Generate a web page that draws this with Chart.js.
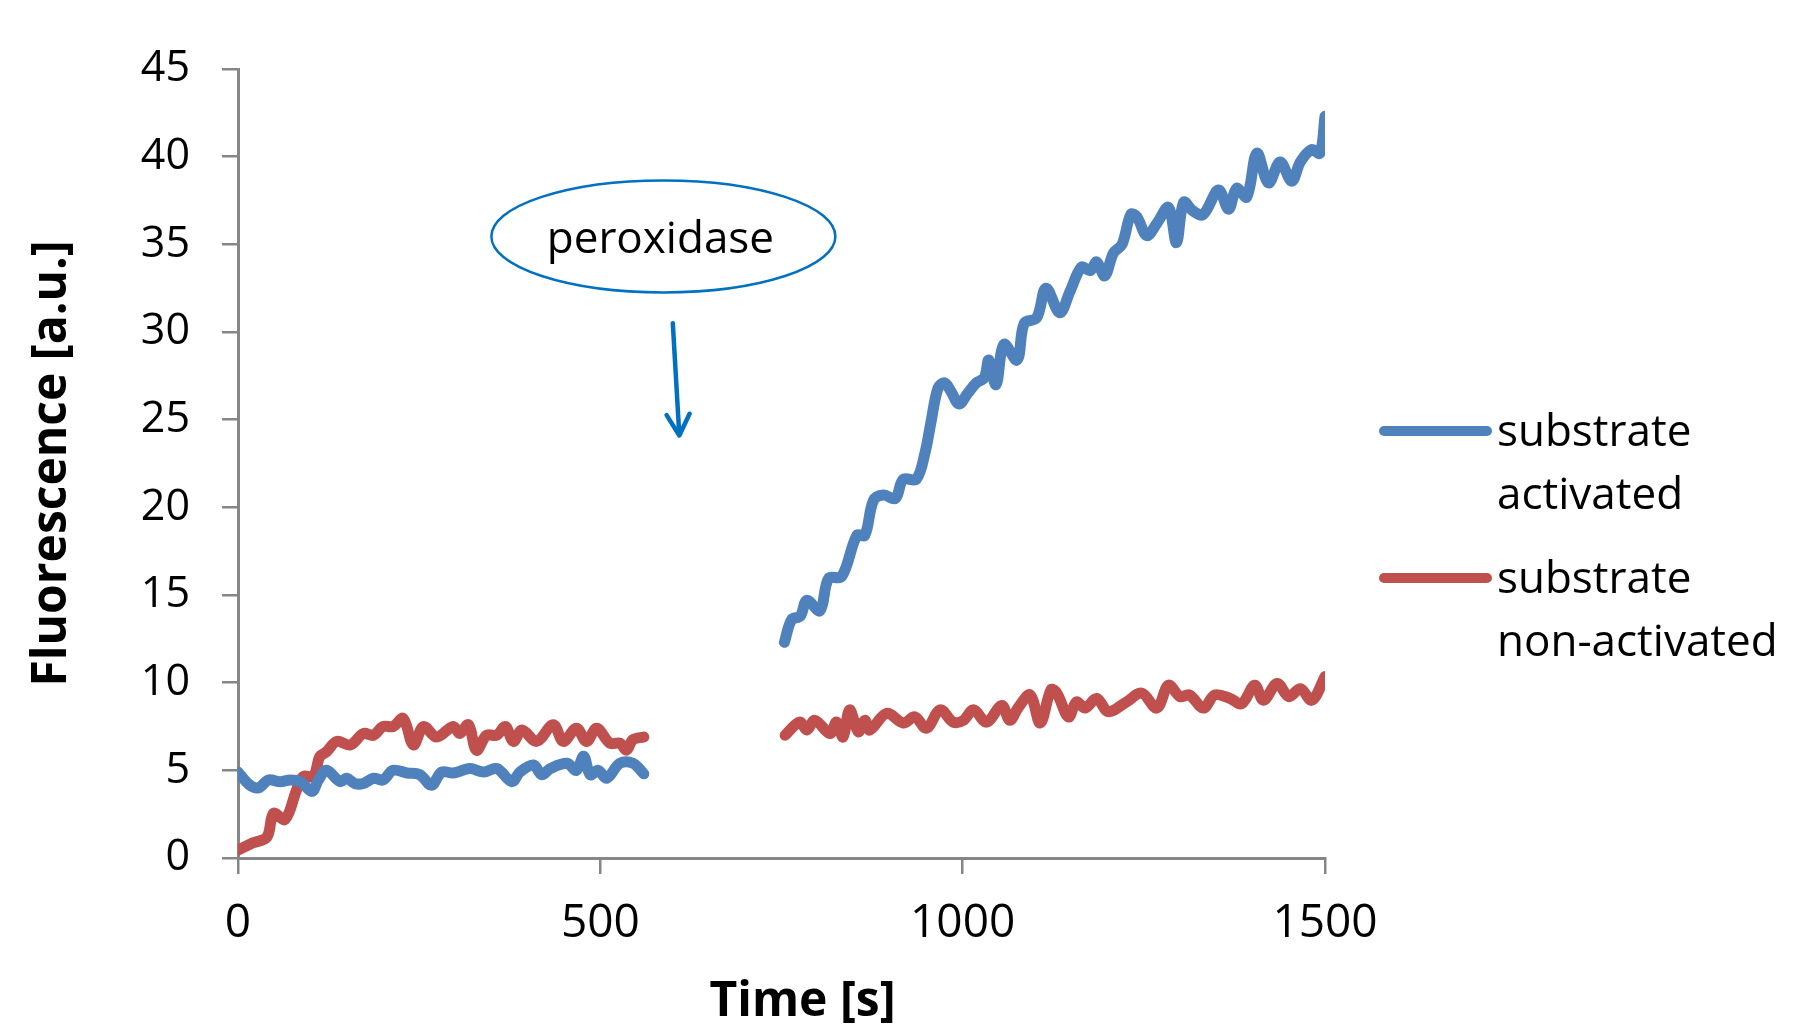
<!DOCTYPE html>
<html>
<head>
<meta charset="utf-8">
<script src="https://cdn.jsdelivr.net/npm/chart.js@4.4.1/dist/chart.umd.min.js"></script>
<style>
  html, body { margin: 0; padding: 0; background: #fff; }
  canvas { display: block; }
</style>
</head>
<body>
<canvas id="myChart" width="1794" height="1025"></canvas>
<script>
// readings, time in s, fluorescence in a.u.
const seriesNames = ["substrate activated", "substrate non-activated"];
const seriesColors = ["#4F81BD", "#C0504D"];

const blueTime = [0, 15, 28, 42, 58, 72, 86, 102, 111, 122, 141, 150, 161, 173, 187, 200, 214, 233, 251, 267,
  281, 297, 320, 339, 357, 378, 389, 408, 419, 431, 454, 467, 477, 486, 497, 509, 527, 545, 560,
  650,
  754, 764, 776, 785, 803, 815, 833, 854, 865, 877, 891, 907, 918, 936, 948, 956, 966, 975, 984, 995,
  1007, 1019, 1030, 1036, 1046, 1057, 1075, 1085, 1102, 1115, 1134, 1148, 1164, 1176, 1185, 1196, 1208, 1220, 1232, 1240,
  1254, 1268, 1284, 1295, 1305, 1318, 1332, 1353, 1367, 1378, 1392, 1406, 1422, 1438, 1454, 1466, 1481, 1493, 1500];
const blueValue = [4.9, 4.2, 4.0, 4.45, 4.35, 4.45, 4.35, 3.8, 4.45, 5.0, 4.35, 4.55, 4.25, 4.25, 4.55, 4.45, 5.0, 4.85, 4.75, 4.15,
  4.9, 4.85, 5.1, 4.9, 5.1, 4.35, 4.9, 5.3, 4.75, 5.1, 5.4, 5.0, 5.8, 4.75, 5.0, 4.55, 5.4, 5.4, 4.8,
  null,
  12.3, 13.6, 13.8, 14.7, 14.1, 15.95, 16.05, 18.4, 18.4, 20.4, 20.7, 20.5, 21.6, 21.6, 23.1, 24.8, 26.8, 27.1, 26.6, 25.9,
  26.5, 27.1, 27.4, 28.4, 27.0, 29.3, 28.4, 30.5, 30.8, 32.5, 31.1, 32.3, 33.7, 33.5, 34.0, 33.2, 34.5, 35.0, 36.7, 36.6,
  35.5, 36.2, 37.1, 35.1, 37.4, 36.9, 36.7, 38.1, 37.0, 38.2, 37.7, 40.2, 38.5, 39.7, 38.6, 39.7, 40.4, 40.2, 42.3];

const redTime = [0, 20, 40, 49, 65, 81, 90, 104, 113, 122, 136, 155, 173, 187, 200, 214, 228, 242, 256, 274,
  297, 306, 318, 329, 343, 357, 369, 380, 392, 412, 435, 449, 467, 481, 495, 513, 527, 536, 545, 560,
  650,
  755, 775, 785, 796, 817, 826, 835, 844, 856, 865, 872, 895, 918, 934, 950, 969, 987, 1001, 1015, 1033,
  1054, 1065, 1077, 1093, 1107, 1122, 1130, 1146, 1157, 1169, 1185, 1201, 1226, 1247, 1268, 1284, 1300, 1313, 1332, 1348,
  1369, 1385, 1403, 1415, 1434, 1450, 1466, 1482, 1500];
const redValue = [0.45, 0.85, 1.2, 2.55, 2.2, 3.9, 4.65, 4.65, 5.8, 6.05, 6.65, 6.45, 7.1, 7.0, 7.5, 7.5, 7.95, 6.45, 7.5, 6.9,
  7.5, 7.1, 7.6, 6.15, 7.0, 7.0, 7.5, 6.65, 7.3, 6.65, 7.6, 6.65, 7.4, 6.65, 7.4, 6.55, 6.55, 6.15, 6.75, 6.9,
  null,
  7.0, 7.75, 7.3, 7.85, 7.1, 7.75, 6.9, 8.45, 7.2, 7.85, 7.3, 8.25, 7.7, 8.05, 7.4, 8.45, 7.75, 7.85, 8.45, 7.75,
  8.7, 7.85, 8.6, 9.3, 7.7, 9.6, 9.4, 8.05, 8.9, 8.55, 9.1, 8.35, 8.9, 9.4, 8.55, 9.85, 9.2, 9.3, 8.55, 9.3,
  9.1, 8.8, 9.85, 9.0, 9.95, 9.2, 9.65, 9.0, 10.35];

// annotation: ellipse centre and arrow ends in data units
const noteText = "peroxidase";
const noteAt = [587, 35.45];
const arrowFrom = [600, 30.5];
const arrowTo = [609, 24.1];
const xTitle = "Time [s]";

const FONT = "'Open Sans', 'DejaVu Sans', sans-serif";
const axisGrey = "#868686";
const noteBlue = "#0070C0";

const toPoints = (xs, ys) => xs.map((t, i) => ({ x: t, y: ys[i] }));

const notePlugin = {
  id: "notes",
  afterDatasetsDraw(chart) {
    const { ctx, scales: { x, y } } = chart;
    const area = chart.chartArea;
    ctx.save();
    // ellipse with text
    const cx = x.getPixelForValue(noteAt[0]);
    const cy = y.getPixelForValue(noteAt[1]);
    ctx.strokeStyle = noteBlue;
    ctx.lineWidth = 2.5;
    ctx.beginPath();
    ctx.ellipse(cx, cy, 172, 56, 0, 0, Math.PI * 2);
    ctx.stroke();
    ctx.fillStyle = "#000";
    ctx.font = "44px " + FONT;
    ctx.textAlign = "center";
    ctx.textBaseline = "middle";
    ctx.fillText(noteText, cx - 3, cy + 4);

    // arrow
    const x1 = x.getPixelForValue(arrowFrom[0]), y1 = y.getPixelForValue(arrowFrom[1]);
    const x2 = x.getPixelForValue(arrowTo[0]), y2 = y.getPixelForValue(arrowTo[1]);
    ctx.lineWidth = 4.5;
    ctx.lineCap = "round";
    ctx.lineJoin = "round";
    ctx.beginPath();
    ctx.moveTo(x1, y1);
    ctx.lineTo(x2, y2);
    const ang = Math.atan2(y2 - y1, x2 - x1);
    const head = 24;
    ctx.moveTo(x2 - head * Math.cos(ang - 0.5), y2 - head * Math.sin(ang - 0.5));
    ctx.lineTo(x2, y2);
    ctx.lineTo(x2 - head * Math.cos(ang + 0.5), y2 - head * Math.sin(ang + 0.5));
    ctx.stroke();

    // x axis title, a bit right of centre as in the original
    ctx.font = "bold 48px " + FONT;
    ctx.textBaseline = "alphabetic";
    ctx.fillText(xTitle, (area.left + area.right) / 2 + 21, 1016);

    // legend on the right, two lines per entry
    const lx = area.right + 59;
    ctx.font = "44px " + FONT;
    ctx.textAlign = "left";
    ctx.textBaseline = "middle";
    chart.data.datasets.forEach((ds, i) => {
      const ly = area.top + 362 + i * 147;
      ctx.strokeStyle = ds.borderColor;
      ctx.lineWidth = 10;
      ctx.beginPath();
      ctx.moveTo(lx, ly);
      ctx.lineTo(lx + 103, ly);
      ctx.stroke();
      const cut = ds.label.indexOf(" ");
      const lines = [ds.label.slice(0, cut), ds.label.slice(cut + 1)];
      ctx.fillStyle = "#000";
      lines.forEach((s, k) => ctx.fillText(s, lx + 113, ly + 2 + k * 63));
    });
    ctx.restore();
  }
};

const myChart = document.querySelector("#myChart");
const chart = new Chart(myChart, {
  type: "line",
  data: {
    datasets: [
      { label: seriesNames[0], data: toPoints(blueTime, blueValue), borderColor: seriesColors[0] },
      { label: seriesNames[1], data: toPoints(redTime, redValue), borderColor: seriesColors[1] },
    ],
  },
  options: {
    responsive: false,
    animation: false,
    devicePixelRatio: 1,
    spanGaps: false,
    layout: { padding: { top: 69, right: 469, left: 24, bottom: 0 } },
    elements: {
      point: { radius: 0 },
      line: { borderWidth: 11, tension: 0.35, borderCapStyle: "round", borderJoinStyle: "round", fill: false },
    },
    plugins: { legend: { display: false }, tooltip: { enabled: false } },
    scales: {
      x: {
        type: "linear",
        min: 0,
        max: 1500,
        afterFit(scale) { scale.height = 167; },
        ticks: { stepSize: 500, color: "#000", font: { family: FONT, size: 46 }, padding: 22, maxRotation: 0,
          callback: (v) => String(v) },
        grid: { drawOnChartArea: false, drawTicks: true, tickLength: 16, color: axisGrey, lineWidth: 2.5 },
        border: { color: axisGrey, width: 3 },
      },
      y: {
        min: 0,
        max: 45,
        afterFit(scale) { scale.width = 214; },
        ticks: { stepSize: 5, color: "#000", font: { family: FONT, size: 43 }, padding: 32 },
        grid: { drawOnChartArea: false, drawTicks: true, tickLength: 16, color: axisGrey, lineWidth: 2.5 },
        border: { color: axisGrey, width: 3 },
        title: { display: true, text: "Fluorescence [a.u.]", color: "#000", font: { family: FONT, size: 48, weight: "bold" }, padding: 0 },
      },
    },
  },
  plugins: [notePlugin],
});
</script>
</body>
</html>
